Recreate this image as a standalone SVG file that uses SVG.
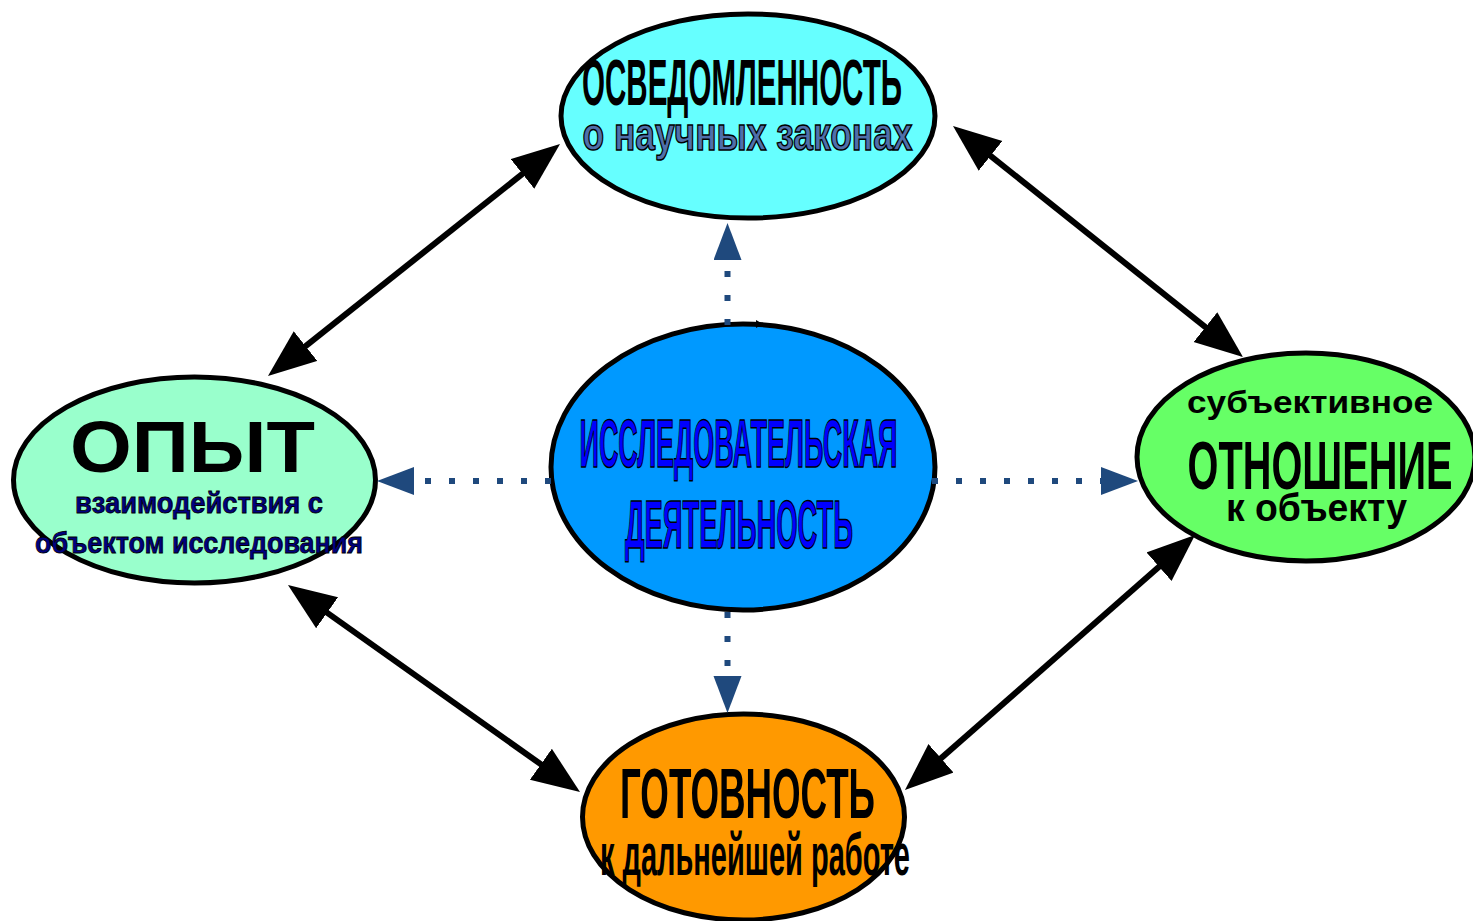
<svg xmlns="http://www.w3.org/2000/svg" width="1473" height="921" viewBox="0 0 1473 921">
<style>
.node{stroke:#000;stroke-width:5}
.t{font-family:"Liberation Sans",Arial,sans-serif;font-weight:bold;text-anchor:middle}
.blk{fill:#000}
.outl{stroke:#000;stroke-width:1.5}
.solid{stroke:#000;stroke-width:6;fill:none}
.dot{stroke:#1F497D;stroke-width:6;stroke-dasharray:6 18;fill:none}
</style>
<defs>
<marker id="ah" markerUnits="userSpaceOnUse" markerWidth="50" markerHeight="40" refX="8" refY="19" orient="auto-start-reverse" viewBox="0 0 50 40">
<path d="M0,0 L48,19 L0,38 z" fill="#000"/>
</marker>
<marker id="bh" markerUnits="userSpaceOnUse" markerWidth="40" markerHeight="30" refX="0" refY="14" orient="auto" viewBox="0 0 40 30">
<path d="M0,0 L37,14 L0,28 z" fill="#1F497D"/>
</marker>
</defs>
<rect width="1473" height="921" fill="#fff"/>
<g id="connectors">
<line class="solid" x1="299.3" y1="351.1" x2="528.7" y2="168.9" marker-start="url(#ah)" marker-end="url(#ah)"/>
<line class="solid" x1="984.3" y1="150.9" x2="1211.7" y2="332.1" marker-start="url(#ah)" marker-end="url(#ah)"/>
<line class="solid" x1="320.6" y1="608.1" x2="547.4" y2="768.9" marker-start="url(#ah)" marker-end="url(#ah)"/>
<line class="solid" x1="935" y1="763.6" x2="1165" y2="561.4" marker-start="url(#ah)" marker-end="url(#ah)"/>
</g>
<g id="node-top">
<ellipse class="node" cx="748" cy="116" rx="187" ry="102" fill="#66FFFF"/>
<text class="t blk" x="742" y="105" font-size="64" textLength="320" lengthAdjust="spacingAndGlyphs">ОСВЕДОМЛЕННОСТЬ</text>
<text class="t outl" x="747.5" y="150" font-size="46" textLength="330" lengthAdjust="spacingAndGlyphs" fill="#4F6FAA">о научных законах</text>
</g>
<g id="node-center">
<ellipse class="node" cx="743" cy="467" rx="192" ry="143" fill="#0099FF"/>
<text class="t outl" x="738.5" y="467" font-size="68" textLength="318" lengthAdjust="spacingAndGlyphs" fill="#0000FF">ИССЛЕДОВАТЕЛЬСКАЯ</text>
<text class="t outl" x="739" y="548" font-size="68" textLength="228" lengthAdjust="spacingAndGlyphs" fill="#0000FF">ДЕЯТЕЛЬНОСТЬ</text>
</g>
<g id="node-left">
<ellipse class="node" cx="194.5" cy="480" rx="181" ry="103" fill="#99FFCC"/>
<text class="t blk" x="192.5" y="472" font-size="72" textLength="245" lengthAdjust="spacingAndGlyphs">ОПЫТ</text>
<text class="t" x="199" y="513" font-size="29" textLength="248" lengthAdjust="spacingAndGlyphs" fill="#000080" stroke="#000" stroke-width="0.8">взаимодействия с</text>
<text class="t" x="199" y="553" font-size="29" textLength="328" lengthAdjust="spacingAndGlyphs" fill="#000080" stroke="#000" stroke-width="0.8">объектом исследования</text>
</g>
<g id="node-right">
<ellipse class="node" cx="1306" cy="457" rx="169" ry="104" fill="#66FF66"/>
<text class="t blk" x="1310" y="413" font-size="32" textLength="246" lengthAdjust="spacingAndGlyphs">субъективное</text>
<text class="t blk" x="1320" y="489" font-size="68" textLength="265" lengthAdjust="spacingAndGlyphs">ОТНОШЕНИЕ</text>
<text class="t blk" x="1316.5" y="521" font-size="38" textLength="181" lengthAdjust="spacingAndGlyphs">к объекту</text>
</g>
<g id="node-bottom">
<ellipse class="node" cx="743.5" cy="817" rx="161" ry="103" fill="#FF9900"/>
<text class="t blk" x="747.5" y="818" font-size="71" textLength="255" lengthAdjust="spacingAndGlyphs">ГОТОВНОСТЬ</text>
<text class="t blk" x="755" y="875" font-size="60" textLength="310" lengthAdjust="spacingAndGlyphs">к дальнейшей работе</text>
</g>
<g id="dotted-connectors">
<line class="dot" x1="727.5" y1="325" x2="727.5" y2="260" marker-end="url(#bh)"/>
<line class="dot" x1="551" y1="481" x2="414" y2="481" marker-end="url(#bh)"/>
<line class="dot" x1="932" y1="481" x2="1101" y2="481" marker-end="url(#bh)"/>
<line class="dot" x1="727.5" y1="612" x2="727.5" y2="676" marker-end="url(#bh)"/>
<path d="M756,320 L763,324 L756,328 z" fill="#000"/>
</g>
</svg>
